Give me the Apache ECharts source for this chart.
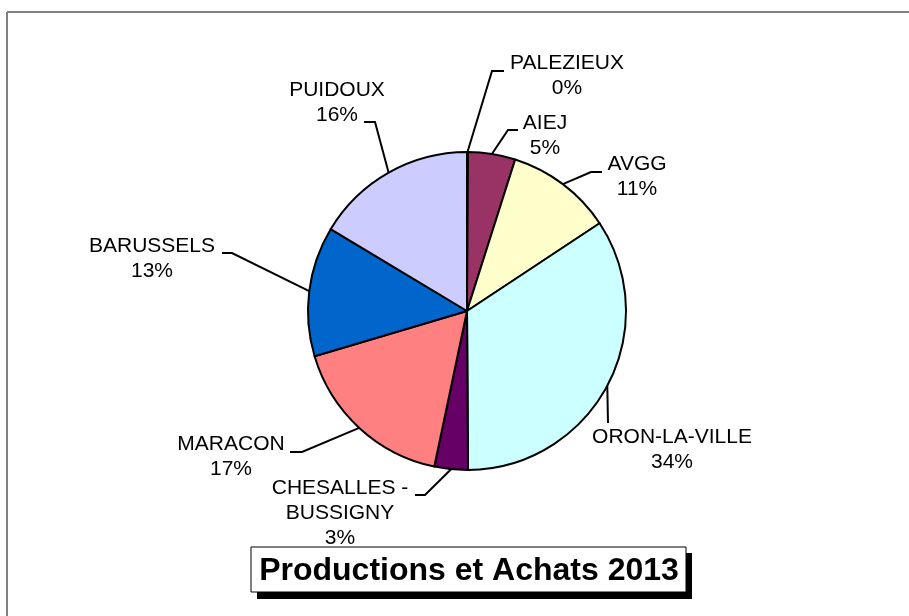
<!DOCTYPE html>
<html>
<head>
<meta charset="utf-8">
<script src="https://cdn.jsdelivr.net/npm/echarts@6/dist/echarts.min.js"></script>
<style>
  html, body { margin: 0; padding: 0; background: #fff; }
  #chart { width: 909px; height: 616px; }
</style>
</head>
<body>
<div id="chart"></div>
<script type="application/javascript">

var names = ['PALEZIEUX', 'AIEJ', 'AVGG', 'ORON-LA-VILLE', 'CHESALLES -\nBUSSIGNY', 'MARACON', 'BARUSSELS', 'PUIDOUX'];
var values = [0.1, 4.8, 10.8, 34.2, 3.4, 17.1, 13.2, 16.4];
var colors = ['#993366', '#993366', '#FFFFCC', '#CCFFFF', '#660066', '#FF8080', '#0066CC', '#CCCCFF'];

// label placement: [text x, text middle y, elbow x, elbow y, end x, end y]
var labelSpots = [
  [567, 76, 492, 71, 504, 71],
  [545, 136, 508, 130, 518, 130],
  [637, 177, 591, 172, 602, 172],
  [672, 450, 608, 423, 608, 423],
  [340, 513, 425, 495, 415, 495],
  [231, 457, 302, 452, 290, 452],
  [152, 259, 232, 253, 222, 253],
  [337, 103, 375, 122, 364, 122]
];

var total = values.reduce(function (a, b) { return a + b; }, 0);

var chartDom = document.getElementById('chart');
var myChart = echarts.init(chartDom);
var option;

option = {
  animation: false,
  color: colors,
  series: [
    {
      type: 'pie',
      center: [467, 311],
      radius: 159,
      startAngle: 90,
      clockwise: true,
      avoidLabelOverlap: false,
      itemStyle: {
        borderColor: '#000',
        borderWidth: 2
      },
      label: {
        show: true,
        position: 'outside',
        color: '#000',
        fontFamily: 'Liberation Sans, Arial, sans-serif',
        fontSize: 21,
        lineHeight: 25,
        align: 'center',
        formatter: function (p) {
          return p.name + '\n' + Math.round(p.value / total * 100) + '%';
        }
      },
      labelLine: {
        show: true,
        length: 20,
        length2: 10,
        lineStyle: { color: '#000', width: 2 }
      },
      labelLayout: function (params) {
        var s = labelSpots[params.dataIndex];
        var start = params.labelLinePoints ? params.labelLinePoints[0] : [s[2], s[3]];
        return {
          x: s[0],
          y: s[1],
          align: 'center',
          verticalAlign: 'middle',
          labelLinePoints: [start, [s[2], s[3]], [s[4], s[5]]]
        };
      },
      data: names.map(function (n, i) {
        return { name: n, value: values[i] };
      })
    }
  ],
  graphic: [
    { type: 'line', shape: { x1: 7, y1: 12, x2: 909, y2: 12 }, style: { stroke: '#808080', lineWidth: 2 } },
    { type: 'line', shape: { x1: 7, y1: 12, x2: 7, y2: 616 }, style: { stroke: '#808080', lineWidth: 2 } },
    { type: 'rect', shape: { x: 257, y: 553, width: 435, height: 46 }, style: { fill: '#000' } },
    { type: 'rect', shape: { x: 251, y: 547, width: 435, height: 45 }, style: { fill: '#fff', stroke: '#000', lineWidth: 1 } },
    {
      type: 'text',
      x: 469,
      y: 571,
      style: {
        text: 'Productions et Achats 2013',
        fill: '#000',
        font: 'bold 32px "Liberation Sans", Arial, sans-serif',
        align: 'center',
        verticalAlign: 'middle'
      }
    }
  ]
};

option && myChart.setOption(option);
</script>
</body>
</html>
